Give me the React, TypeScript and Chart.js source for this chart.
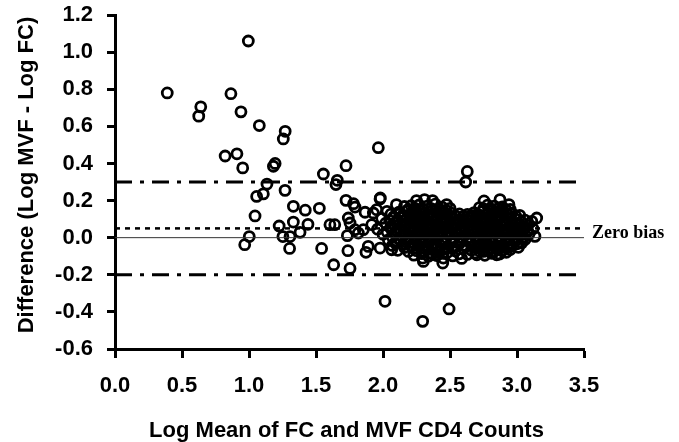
import { useEffect, useRef } from 'react';
import { Chart, registerables } from 'chart.js';

Chart.register(...registerables);

// ---- axes ----
const xMin = 0;
const xMax = 3.5;
const xStep = 0.5;
const yMin = -0.6;
const yMax = 1.2;
const yStep = 0.2;

// ---- texts ----
const xTitle = 'Log Mean of FC and MVF CD4 Counts';
const yTitle = 'Difference (Log MVF - Log FC)';
const biasLabel = 'Zero bias';

// ---- reference lines ----
const upperLimit = 0.3;
const meanBias = 0.05;
const zeroLine = 0;
const lowerLimit = -0.2;

// ---- scattered points (log mean, difference) ----
const scatteredPoints: [number, number][] = [
  [0.39, 0.78], [0.64, 0.705], [0.625, 0.655], [0.865, 0.776], [0.995, 1.06],
  [0.94, 0.678], [1.077, 0.604], [1.27, 0.573], [1.256, 0.532], [0.822, 0.44],
  [0.91, 0.452], [0.953, 0.376], [1.195, 0.4], [1.182, 0.385], [1.555, 0.343],
  [1.659, 0.309], [1.649, 0.286], [1.134, 0.289], [1.057, 0.222], [1.107, 0.236],
  [1.269, 0.255], [1.331, 0.169], [1.42, 0.148], [1.525, 0.158], [1.045, 0.117],
  [0.968, -0.038], [1.002, 0.006], [1.225, 0.063], [1.331, 0.084], [1.253, 0.006],
  [1.306, 0.006], [1.303, -0.058], [1.381, 0.029], [1.44, 0.072], [1.542, -0.058],
  [1.632, -0.146], [1.604, 0.07], [1.64, 0.07], [1.754, -0.166], [1.724, 0.388],
  [1.965, 0.485], [1.724, 0.201], [1.78, 0.183], [1.791, 0.165], [1.866, 0.137],
  [1.741, 0.106], [1.754, 0.079], [1.734, 0.011], [1.791, 0.043], [1.816, 0.025],
  [1.738, -0.07], [1.873, -0.079], [1.89, -0.047], [1.978, 0.209], [2.015, -0.343],
  [1.978, -0.056], [1.853, 0.043], [1.916, 0.07], [1.928, 0.133], [1.953, 0.151],
  [2.629, 0.357], [2.617, 0.3], [2.296, -0.451], [2.493, -0.384],
];

// ---- edge of the dense cluster ----
const clusterEdgePoints: [number, number][] = [
  [1.98, 0.214], [2.1, 0.178], [2.25, 0.2], [2.31, 0.205], [2.37, 0.2],
  [2.475, 0.178], [2.754, 0.198], [2.873, 0.205], [2.94, 0.178], [3.147, 0.106],
  [3.11, 0.088], [3.134, 0.007], [3.035, -0.029], [2.749, -0.074], [2.848, -0.092],
  [2.7, -0.092], [2.065, -0.065], [2.296, -0.11], [2.301, -0.128], [2.45, -0.11],
  [2.446, -0.137], [2.587, -0.112],
];

// ---- core of the dense cluster ----
const clusterCorePoints: [number, number][] = [
  [2.16, 0.168], [2.21, 0.172], [2.27, 0.176], [2.33, 0.17], [2.39, 0.181], [2.44, 0.165],
  [2.5, 0.158], [2.72, 0.162], [2.78, 0.175], [2.83, 0.17], [2.89, 0.166], [2.95, 0.152],
  [2.03, 0.142], [2.12, 0.138], [2.18, 0.146], [2.23, 0.14], [2.28, 0.143], [2.34, 0.137],
  [2.39, 0.145], [2.45, 0.139], [2.51, 0.132], [2.57, 0.128], [2.63, 0.125], [2.68, 0.135],
  [2.74, 0.14], [2.79, 0.146], [2.85, 0.138], [2.9, 0.142], [2.96, 0.131], [3.02, 0.12],
  [1.99, 0.104], [2.08, 0.112], [2.14, 0.108], [2.2, 0.115], [2.25, 0.11], [2.3, 0.106],
  [2.36, 0.114], [2.41, 0.109], [2.47, 0.104], [2.53, 0.1], [2.6, 0.098], [2.66, 0.105],
  [2.71, 0.112], [2.77, 0.108], [2.82, 0.115], [2.88, 0.109], [2.93, 0.104], [2.99, 0.1],
  [3.06, 0.094],
  [2.02, 0.078], [2.1, 0.082], [2.17, 0.076], [2.22, 0.085], [2.27, 0.08], [2.33, 0.077],
  [2.38, 0.084], [2.44, 0.079], [2.49, 0.074], [2.55, 0.072], [2.62, 0.076], [2.68, 0.08],
  [2.74, 0.083], [2.79, 0.078], [2.85, 0.086], [2.91, 0.079], [2.96, 0.074], [3.02, 0.07],
  [3.08, 0.066],
  [1.96, 0.046], [2.06, 0.052], [2.13, 0.048], [2.19, 0.055], [2.24, 0.05], [2.3, 0.046],
  [2.35, 0.053], [2.41, 0.049], [2.46, 0.044], [2.52, 0.047], [2.58, 0.042], [2.64, 0.048],
  [2.7, 0.052], [2.76, 0.047], [2.82, 0.054], [2.87, 0.049], [2.93, 0.045], [2.99, 0.04],
  [3.05, 0.043], [3.12, 0.048],
  [2.0, 0.018], [2.09, 0.022], [2.16, 0.016], [2.21, 0.024], [2.27, 0.019], [2.32, 0.015],
  [2.38, 0.022], [2.43, 0.018], [2.49, 0.013], [2.55, 0.017], [2.61, 0.012], [2.67, 0.02],
  [2.73, 0.024], [2.78, 0.017], [2.84, 0.021], [2.9, 0.016], [2.96, 0.012], [3.03, 0.014],
  [3.09, 0.02],
  [2.04, -0.012], [2.12, -0.008], [2.18, -0.014], [2.24, -0.006], [2.29, -0.011], [2.35, -0.016],
  [2.4, -0.009], [2.46, -0.013], [2.52, -0.018], [2.58, -0.012], [2.64, -0.015], [2.7, -0.009],
  [2.75, -0.005], [2.81, -0.012], [2.87, -0.008], [2.93, -0.014], [2.99, -0.018], [3.06, -0.01],
  [2.07, -0.042], [2.15, -0.038], [2.21, -0.045], [2.26, -0.04], [2.32, -0.047], [2.37, -0.041],
  [2.43, -0.044], [2.48, -0.05], [2.55, -0.046], [2.62, -0.048], [2.68, -0.04], [2.73, -0.036],
  [2.79, -0.043], [2.84, -0.047], [2.9, -0.041], [2.96, -0.045], [3.01, -0.052],
  [2.11, -0.068], [2.19, -0.074], [2.25, -0.07], [2.31, -0.076], [2.36, -0.082], [2.42, -0.075],
  [2.48, -0.08], [2.54, -0.072], [2.66, -0.068], [2.72, -0.072], [2.78, -0.066], [2.83, -0.075],
  [2.89, -0.07], [2.95, -0.064],
  [2.23, -0.094], [2.34, -0.1], [2.4, -0.096], [2.52, -0.098], [2.63, -0.09], [2.76, -0.095],
  [2.87, -0.088],
];

// ---- further overlapping points inside the cluster ----
const clusterInnerPoints: [number, number][] = [
  [2.19, 0.153], [2.24, 0.158], [2.3, 0.151], [2.36, 0.157], [2.42, 0.152], [2.47, 0.148],
  [2.75, 0.156], [2.81, 0.152], [2.86, 0.158], [2.92, 0.149],
  [2.06, 0.127], [2.15, 0.122], [2.21, 0.128], [2.26, 0.124], [2.31, 0.129], [2.37, 0.121],
  [2.42, 0.126], [2.48, 0.122], [2.54, 0.118], [2.6, 0.115], [2.66, 0.12], [2.71, 0.126],
  [2.77, 0.123], [2.82, 0.129], [2.87, 0.121], [2.93, 0.125], [2.99, 0.117],
  [2.05, 0.092], [2.11, 0.097], [2.17, 0.093], [2.23, 0.099], [2.28, 0.094], [2.33, 0.091],
  [2.39, 0.097], [2.44, 0.093], [2.5, 0.089], [2.57, 0.086], [2.63, 0.09], [2.69, 0.095],
  [2.74, 0.098], [2.8, 0.093], [2.85, 0.097], [2.91, 0.092], [2.96, 0.088], [3.03, 0.085],
  [2.06, 0.062], [2.14, 0.066], [2.2, 0.061], [2.25, 0.068], [2.3, 0.063], [2.36, 0.06],
  [2.41, 0.067], [2.47, 0.062], [2.52, 0.058], [2.59, 0.061], [2.65, 0.064], [2.71, 0.067],
  [2.77, 0.062], [2.82, 0.069], [2.88, 0.063], [2.94, 0.059], [2.99, 0.056], [3.05, 0.06],
  [2.03, 0.032], [2.1, 0.037], [2.16, 0.031], [2.22, 0.038], [2.27, 0.033], [2.33, 0.029],
  [2.38, 0.036], [2.44, 0.032], [2.49, 0.028], [2.55, 0.031], [2.61, 0.027], [2.67, 0.034],
  [2.73, 0.038], [2.79, 0.032], [2.85, 0.036], [2.9, 0.03], [2.96, 0.027], [3.02, 0.029],
  [3.08, 0.034],
  [2.07, 0.003], [2.14, 0.008], [2.19, 0.002], [2.25, 0.009], [2.3, 0.004], [2.36, 0.0],
  [2.41, 0.006], [2.47, 0.002], [2.53, -0.003], [2.58, 0.001], [2.64, -0.002], [2.7, 0.005],
  [2.76, 0.009], [2.81, 0.003], [2.87, 0.007], [2.93, 0.001], [2.99, -0.003], [3.05, 0.002],
  [2.09, -0.027], [2.17, -0.022], [2.23, -0.028], [2.28, -0.021], [2.34, -0.026], [2.39, -0.031],
  [2.45, -0.024], [2.51, -0.029], [2.57, -0.033], [2.65, -0.028], [2.71, -0.022], [2.77, -0.025],
  [2.82, -0.03], [2.88, -0.023], [2.94, -0.028], [3.0, -0.033],
  [2.16, -0.053], [2.23, -0.058], [2.29, -0.054], [2.34, -0.061], [2.4, -0.057], [2.46, -0.062],
  [2.52, -0.056], [2.6, -0.059], [2.7, -0.055], [2.76, -0.052], [2.81, -0.058], [2.87, -0.054],
  [2.93, -0.05],
  [2.29, -0.086], [2.37, -0.089], [2.45, -0.083], [2.57, -0.087], [2.69, -0.082], [2.81, -0.084],
  [2.92, -0.079],
];

const SANS = '"Liberation Sans", Arial, Helvetica, sans-serif';
const SERIF = '"Liberation Serif", "Times New Roman", serif';

const textPlugin = {
  id: 'textPlugin',
  afterDraw(chart: any) {
    const { ctx, chartArea, scales } = chart;
    ctx.save();
    ctx.fillStyle = '#000';
    // bias label
    ctx.font = `bold 18px ${SERIF}`;
    ctx.textAlign = 'left';
    ctx.textBaseline = 'alphabetic';
    ctx.fillText(biasLabel, chartArea.right + 8, scales.y.getPixelForValue(zeroLine) + 0.5);
    // x title
    ctx.font = `bold 22px ${SANS}`;
    ctx.textAlign = 'center';
    ctx.fillText(xTitle, (chartArea.left + chartArea.right) / 2 - 3, 437);
    // y title
    ctx.translate(33, (chartArea.top + chartArea.bottom) / 2 - 7);
    ctx.rotate(-Math.PI / 2);
    ctx.fillText(yTitle, 0, 0);
    ctx.restore();
  },
};

const toXY = (pts: [number, number][]) => pts.map(([x, y]) => ({ x, y }));

const refLine = (value: number, dash: number[], width: number, color: string) => ({
  data: [
    { x: xMin, y: value },
    { x: xMax, y: value },
  ],
  showLine: true,
  borderColor: color,
  borderWidth: width,
  borderDash: dash,
  pointRadius: 0,
  fill: false,
});

export default function App() {
  const canvasRef = useRef<HTMLCanvasElement | null>(null);

  useEffect(() => {
    if (!canvasRef.current) return;
    const pointStyle = {
      showLine: false,
      pointRadius: 5,
      pointBorderWidth: 2.8,
      pointBorderColor: '#000',
      pointBackgroundColor: 'rgba(0,0,0,0)',
      pointHoverRadius: 5,
    };
    const chart = new Chart(canvasRef.current, {
      type: 'scatter',
      data: {
        datasets: [
          refLine(zeroLine, [], 1, '#333'),
          refLine(meanBias, [5, 5], 2.5, '#000'),
          refLine(upperLimit, [17, 8, 4, 8], 3, '#000'),
          refLine(lowerLimit, [17, 8, 4, 8], 3, '#000'),
          { data: toXY(scatteredPoints), ...pointStyle },
          { data: toXY(clusterEdgePoints), ...pointStyle },
          { data: toXY(clusterCorePoints), ...pointStyle },
          { data: toXY(clusterInnerPoints), ...pointStyle },
        ] as any,
      },
      options: {
        responsive: false,
        animation: false,
        layout: { padding: { top: 15, right: 95, left: 0, bottom: 0 } },
        plugins: {
          legend: { display: false },
          tooltip: { enabled: false },
          title: { display: false },
        },
        scales: {
          x: {
            type: 'linear',
            min: xMin,
            max: xMax,
            ticks: {
              stepSize: xStep,
              color: '#000',
              padding: 15,
              font: { family: SANS, size: 22, weight: 'bold' },
              callback: (v: any) => Number(v).toFixed(1),
            },
            grid: {
              drawOnChartArea: false,
              drawTicks: true,
              tickLength: 9,
              tickColor: '#000',
              tickWidth: 3,
            },
            border: { display: true, color: '#000', width: 3 },
            afterFit: (s: any) => {
              s.height = 93;
              s.paddingLeft = 0;
              s.paddingRight = 0;
            },
          },
          y: {
            type: 'linear',
            min: yMin,
            max: yMax,
            ticks: {
              stepSize: yStep,
              color: '#000',
              padding: 14,
              font: { family: SANS, size: 22, weight: 'bold' },
              callback: (v: any) => Number(v).toFixed(1),
            },
            grid: {
              drawOnChartArea: false,
              drawTicks: true,
              tickLength: 8,
              tickColor: '#000',
              tickWidth: 3,
            },
            border: { display: true, color: '#000', width: 3 },
            afterFit: (s: any) => {
              s.width = 115;
              s.paddingTop = 0;
              s.paddingBottom = 0;
            },
          },
        },
      } as any,
      plugins: [textPlugin],
    });
    return () => chart.destroy();
  }, []);

  return (
    <canvas
      ref={canvasRef}
      width={679}
      height={442}
      style={{ position: 'absolute', left: 0, top: 0, width: 679, height: 442, background: '#fff' }}
    />
  );
}
